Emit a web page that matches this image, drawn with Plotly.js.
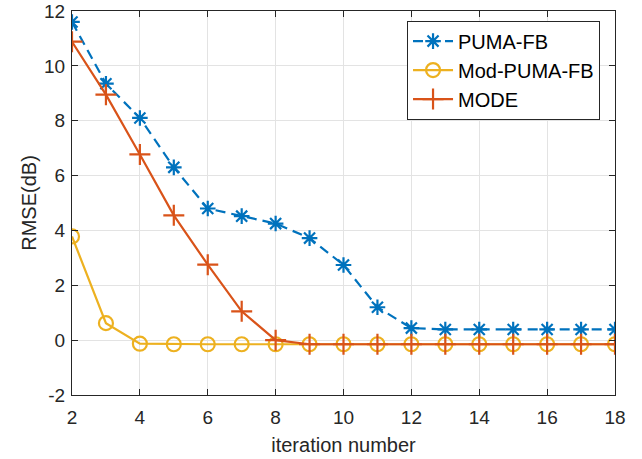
<!DOCTYPE html>
<html>
<head>
<meta charset="utf-8">
<script src="https://cdn.plot.ly/plotly-3.0.1.min.js"></script>
<style>
  html, body { margin: 0; padding: 0; background: #fff; }
  #chart { width: 642px; height: 459px; }
</style>
</head>
<body>
<div id="chart"></div>
<script>
// Iteration index shared by all three methods
const iterations = [2, 3, 4, 5, 6, 7, 8, 9, 10, 11, 12, 13, 14, 15, 16, 17, 18];

// RMSE (dB) per iteration
const pumaFB    = [11.6, 9.35, 8.1, 6.3, 4.8, 4.52, 4.25, 3.72, 2.74, 1.2, 0.44, 0.39, 0.39, 0.39, 0.39, 0.39, 0.39];
const modPumaFB = [3.78, 0.62, -0.13, -0.15, -0.15, -0.15, -0.15, -0.15, -0.15, -0.15, -0.15, -0.15, -0.15, -0.15, -0.15, -0.15, -0.15];
const mode      = [10.88, 8.95, 6.77, 4.55, 2.75, 1.05, 0.0, -0.15, -0.15, -0.15, -0.15, -0.15, -0.15, -0.15, -0.15, -0.15, -0.15];

const xTicks = [2, 4, 6, 8, 10, 12, 14, 16, 18];
const yTicks = [-2, 0, 2, 4, 6, 8, 10, 12];

const FONT = '"Liberation Sans", Arial, Helvetica, sans-serif';
const AXIS_COLOR = '#262626';

const traces = [
  {
    x: iterations, y: pumaFB, name: 'PUMA-FB', type: 'scatter', mode: 'lines+markers',
    line: { color: '#0072BD', width: 2.2, dash: '10px,6px' },
    marker: { symbol: 'asterisk-open', size: 13, color: '#0072BD', line: { color: '#0072BD', width: 2.2 } }
  },
  {
    x: iterations, y: modPumaFB, name: 'Mod-PUMA-FB', type: 'scatter', mode: 'lines+markers',
    line: { color: '#EDB120', width: 2.2 },
    marker: { symbol: 'circle-open', size: 14, color: '#EDB120', line: { color: '#EDB120', width: 2.2 } }
  },
  {
    x: iterations, y: mode, name: 'MODE', type: 'scatter', mode: 'lines+markers',
    line: { color: '#D95319', width: 2.2 },
    marker: { symbol: 'cross-thin-open', size: 15, color: '#D95319', line: { color: '#D95319', width: 2.2 } }
  }
];

const axisCommon = {
  showline: true, linecolor: AXIS_COLOR, linewidth: 1,
  mirror: 'ticks', ticks: 'inside', ticklen: 6, tickwidth: 1, tickcolor: AXIS_COLOR,
  showgrid: true, gridcolor: '#e3e3e3', gridwidth: 1, zeroline: false,
  ticklabeloverflow: 'allow',
  tickfont: { family: FONT, size: 19, color: AXIS_COLOR }
};

const layout = {
  width: 642, height: 459,
  margin: { l: 72, r: 27, t: 11, b: 64 },
  paper_bgcolor: '#ffffff', plot_bgcolor: '#ffffff',
  showlegend: true,
  xaxis: Object.assign({}, axisCommon, {
    range: [2, 18], tickvals: xTicks, ticktext: xTicks.map(String),
    ticklabelstandoff: 5,
    title: { text: 'iteration number', font: { family: FONT, size: 20, color: AXIS_COLOR }, standoff: 11 }
  }),
  yaxis: Object.assign({}, axisCommon, {
    range: [-2, 12], tickvals: yTicks, ticktext: yTicks.map(String),
    ticklabelstandoff: 2,
    title: { text: 'RMSE(dB)', font: { family: FONT, size: 20, color: AXIS_COLOR }, standoff: 2 }
  }),
  legend: {
    x: 0.617, y: 0.975, xanchor: 'left', yanchor: 'top',
    bgcolor: '#ffffff', bordercolor: AXIS_COLOR, borderwidth: 1,
    font: { family: FONT, size: 20, color: '#000000' },
    itemwidth: 40,
    tracegroupgap: 0
  }
};

Plotly.newPlot('chart', traces, layout, { staticPlot: true, displayModeBar: false });
</script>
</body>
</html>
